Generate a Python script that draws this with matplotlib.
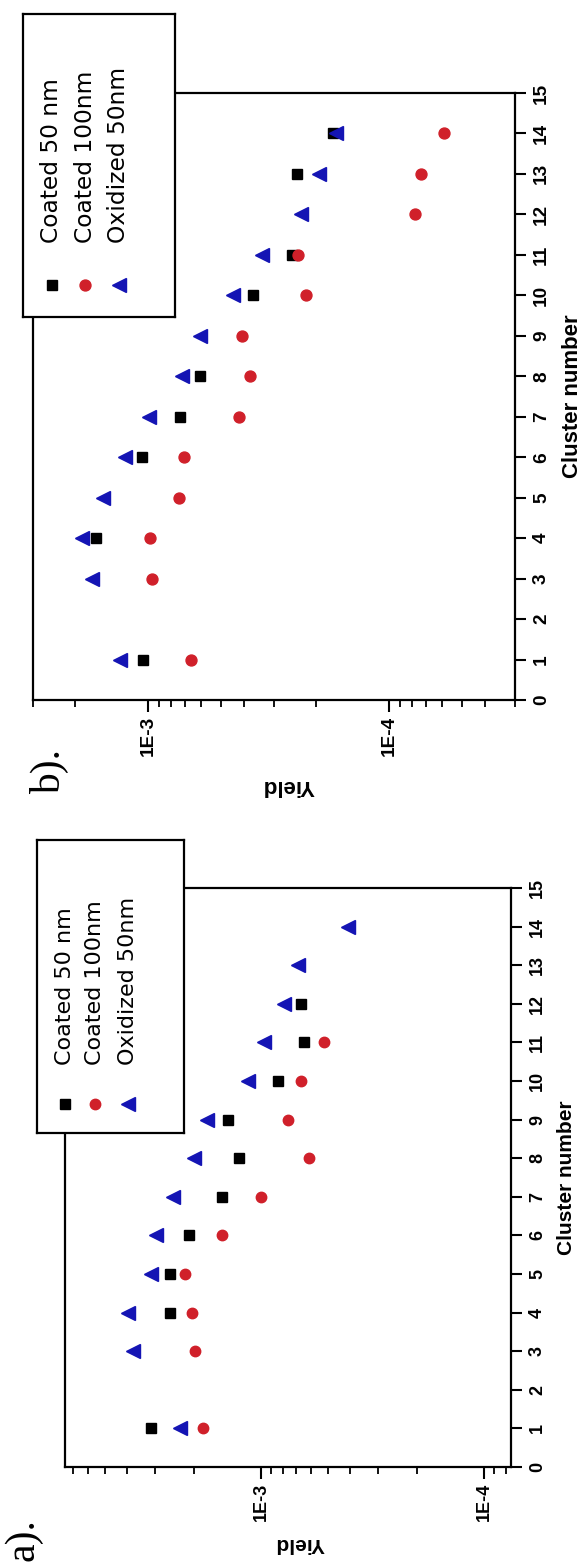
import numpy as np
import matplotlib.pyplot as plt
from matplotlib import font_manager
from matplotlib.ticker import LogLocator, FuncFormatter, NullFormatter, FixedLocator

# ---- data (cluster number vs yield) ----
series_names = ["Coated 50 nm", "Coated 100nm", "Oxidized 50nm"]

# panel a
a_black_x = [1, 4, 5, 6, 7, 8, 9, 10, 11, 12]
a_black_y = [3.1e-3, 2.55e-3, 2.55e-3, 2.1e-3, 1.5e-3, 1.26e-3, 1.4e-3, 8.4e-4, 6.4e-4, 6.6e-4]
a_red_x = [1, 3, 4, 5, 6, 7, 8, 9, 10, 11]
a_red_y = [1.82e-3, 1.97e-3, 2.04e-3, 2.19e-3, 1.5e-3, 1.0e-3, 6.1e-4, 7.6e-4, 6.6e-4, 5.2e-4]
a_blue_x = [1, 3, 4, 5, 6, 7, 8, 9, 10, 11, 12, 13, 14]
a_blue_y = [2.32e-3, 3.76e-3, 3.94e-3, 3.13e-3, 2.95e-3, 2.48e-3, 2.0e-3, 1.74e-3,
            1.14e-3, 9.7e-4, 7.9e-4, 6.8e-4, 4.07e-4]

# panel b
b_black_x = [1, 4, 6, 7, 8, 10, 11, 13, 14]
b_black_y = [1.05e-3, 1.64e-3, 1.06e-3, 7.35e-4, 6.07e-4, 3.66e-4, 2.53e-4, 2.4e-4, 1.71e-4]
b_red_x = [1, 3, 4, 5, 6, 7, 8, 9, 10, 11, 12, 13, 14]
b_red_y = [6.63e-4, 9.6e-4, 9.8e-4, 7.43e-4, 7.1e-4, 4.2e-4, 3.78e-4, 4.09e-4,
           2.21e-4, 2.38e-4, 7.78e-5, 7.33e-5, 5.91e-5]
b_blue_x = [1, 3, 4, 5, 6, 7, 8, 9, 10, 11, 12, 13, 14]
b_blue_y = [1.31e-3, 1.70e-3, 1.87e-3, 1.54e-3, 1.25e-3, 9.9e-4, 7.2e-4, 6.1e-4,
            4.43e-4, 3.36e-4, 2.31e-4, 1.95e-4, 1.66e-4]

W, H = 585, 1562
names = {f.name for f in font_manager.fontManager.ttflist}
narrow = 'Liberation Sans Narrow' if 'Liberation Sans Narrow' in names else 'Liberation Sans'

BLACK = '#000000'
RED = '#d0202a'
BLUE = '#1414b4'


def rect(x0, y0, x1, y1):
    # pixel box (top-left origin) -> figure fraction
    return [x0 / W, 1 - y1 / H, (x1 - x0) / W, (y1 - y0) / H]


def fx(px):
    return px / W


def fy(py):
    return 1 - py / H


fig = plt.figure(figsize=(W / 100, H / 100), dpi=100)


def panel(ax_box, ylims, leg_box, leg_mx, leg_my, leg_ty, scale, bx, by, ry, rx, lx, ly):
    ax = fig.add_axes(rect(*ax_box))
    ax.plot(by, bx, 's', color=BLACK, ms=6.5 * scale, zorder=3)
    ax.plot(ry, rx, 'o', color=RED, ms=7.5 * scale, zorder=4)
    ax.plot(ly, lx, '<', color=BLUE, ms=9.5 * scale, zorder=5)
    ax.set_xscale('log')
    ax.set_xlim(*ylims)
    ax.set_ylim(0, 15)
    ax.xaxis.set_major_locator(LogLocator(base=10))
    ax.xaxis.set_minor_locator(LogLocator(base=10, subs=np.arange(2, 10)))
    ax.xaxis.set_major_formatter(FuncFormatter(lambda v, p: "1E%d" % round(np.log10(v))))
    ax.xaxis.set_minor_formatter(NullFormatter())
    ax.yaxis.set_major_locator(FixedLocator(range(16)))
    ax.yaxis.tick_right()
    for s in ax.spines.values():
        s.set_linewidth(1.6)
    ax.tick_params(axis='x', which='major', direction='out', length=8.5, width=1.5, pad=3,
                   labelrotation=90, labelsize=13 * scale)
    ax.tick_params(axis='x', which='minor', direction='out', length=5, width=1.3)
    ax.tick_params(axis='y', which='major', direction='out', length=8, width=1.5, pad=5,
                   labelrotation=90, labelsize=13 * scale)
    for lab in ax.get_xticklabels() + ax.get_yticklabels():
        lab.set_family(narrow)
        lab.set_fontweight('bold')
    for lab in ax.get_yticklabels():
        lab.set_va('center')

    # legend box drawn over the top-left corner, entries rotated like the page
    lg = fig.add_axes(rect(*leg_box), zorder=10)
    lg.set_xlim(0, 1)
    lg.set_ylim(0, 1)
    lg.set_xticks([])
    lg.set_yticks([])
    lg.set_facecolor('white')
    for s in lg.spines.values():
        s.set_linewidth(1.6)
    mk = [('s', BLACK, 6.5), ('o', RED, 7.5), ('<', BLUE, 9.5)]
    for (m, c, sz), x, name in zip(mk, leg_mx, series_names):
        lg.plot([x], [leg_my], m, color=c, ms=sz * scale)
        lg.text(x, leg_ty, name, rotation=90, ha='center', va='bottom',
                fontsize=16 * scale, family='DejaVu Sans')
    return ax


# panel b (top of page)
panel((33, 93, 515, 700), (3e-3, 3e-5), (23, 14, 175, 317),
      [0.19, 0.41, 0.63], 0.106, 0.244, 1.05,
      b_black_x, b_black_y, b_red_y, b_red_x, b_blue_x, b_blue_y)
fig.text(fx(572), fy(396), "Cluster number", rotation=90, ha='center', va='center',
         fontsize=16, fontweight='bold', family=narrow)
fig.text(fx(288), fy(786), "Yield", rotation=180, ha='center', va='center',
         fontsize=16, fontweight='bold', family=narrow)
fig.text(fx(50), fy(771), "b).", rotation=90, ha='center', va='center',
         fontsize=30, family='Liberation Serif')

# panel a (bottom of page)
panel((65, 888, 511, 1467), (7.57e-3, 7.57e-5), (36.6, 840, 183.6, 1133),
      [0.19, 0.40, 0.62], 0.10, 0.232, 1.0,
      a_black_x, a_black_y, a_red_y, a_red_x, a_blue_x, a_blue_y)
fig.text(fx(567), fy(1178), "Cluster number", rotation=90, ha='center', va='center',
         fontsize=15, fontweight='bold', family=narrow)
fig.text(fx(300), fy(1543), "Yield", rotation=180, ha='center', va='center',
         fontsize=15, fontweight='bold', family=narrow)
fig.text(fx(23), fy(1540), "a).", rotation=90, ha='center', va='center',
         fontsize=30, family='Liberation Serif')

fig.savefig("out.png", dpi=100)
